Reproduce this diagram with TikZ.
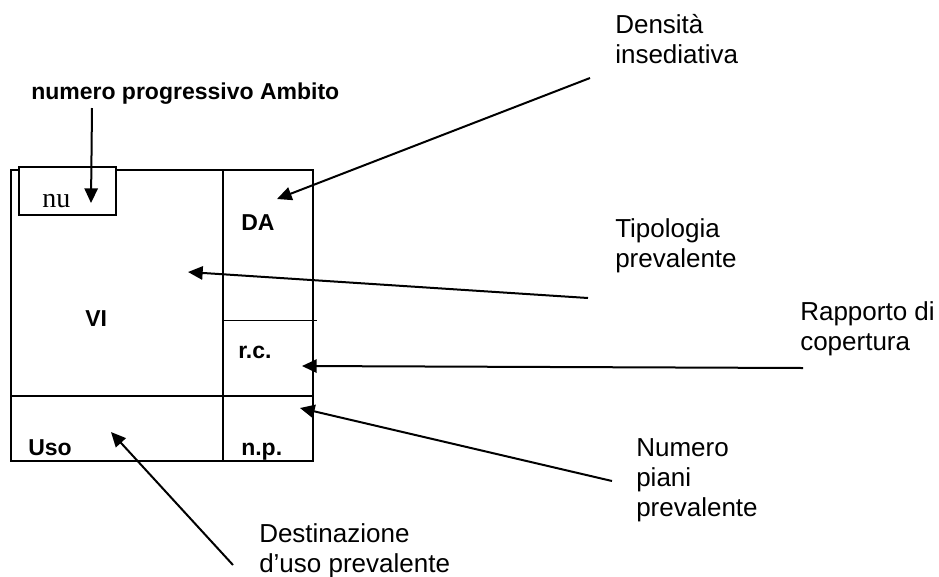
\documentclass[tikz,border=0pt]{standalone}
\usepackage{fontspec}
\setmainfont{Liberation Serif}
\setsansfont{Liberation Sans}
\usetikzlibrary{arrows.meta}

\begin{document}
\begin{tikzpicture}[x=0.75pt, y=-0.75pt, >={Triangle[length=11pt, width=10pt]},
    cellname/.style={font=\sffamily\bfseries\fontsize{17.25pt}{20pt}\selectfont, inner sep=0pt, anchor=base west},
    note/.style={font=\sffamily\fontsize{19.5pt}{22.5pt}\selectfont, align=left, inner sep=0pt, anchor=north west},
    pointer/.style={->, line width=1.5pt}]
        \useasboundingbox (0,0) rectangle (939,576);
        % the table
        \draw[line width=1.5pt] (11,170) rectangle (313,461);
        \draw[line width=1.5pt] (223,170) -- (223,461);
        \draw[line width=1.5pt] (11,396) -- (313,396);
        \draw[line width=0.75pt] (223,320) -- (317,320);
        \filldraw[fill=white, line width=1pt] (19,167) rectangle (116,215);
        \node[font=\fontsize{21pt}{24pt}\selectfont, inner sep=0pt, anchor=base west] (nu) at (42,207) {nu};
        \foreach \t/\n/\x/\y in {DA/da/241/230, VI/vi/85/326, r.c./rc/238/358, Uso/uso/28/455, n.p./np/241/455}
          \node [cellname] (cell-\n) at (\x,\y) {\t};
        % labels
        \node [cellname] (prog) at (31,99) {numero progressivo Ambito};
        \node [note] (dens) at (615,14) {Densità\\insediativa};
        \node [note] (tipo) at (615,218) {Tipologia\\prevalente};
        \node [note] (rapp) at (800,301) {Rapporto di\\copertura};
        \node [note] (piani) at (636,438) {Numero\\piani\\prevalente};
        \node [note] (dest) at (259,523) {Destinazione\\d’uso prevalente};
        % arrow ends
        \foreach \n/\x/\y/\u/\v in {prog/92/108/91/203, dens/590/78/277/199, tipo/588/298/188/272,
                                    rapp/803/368/302/366, piani/612/481/300/408, dest/233/565/111/432}
          {
          \coordinate (from-\n) at (\x,\y);
          \coordinate (to-\n) at (\u,\v);
          \draw [pointer] (from-\n) -- (to-\n);
          }
\end{tikzpicture}
\end{document}
